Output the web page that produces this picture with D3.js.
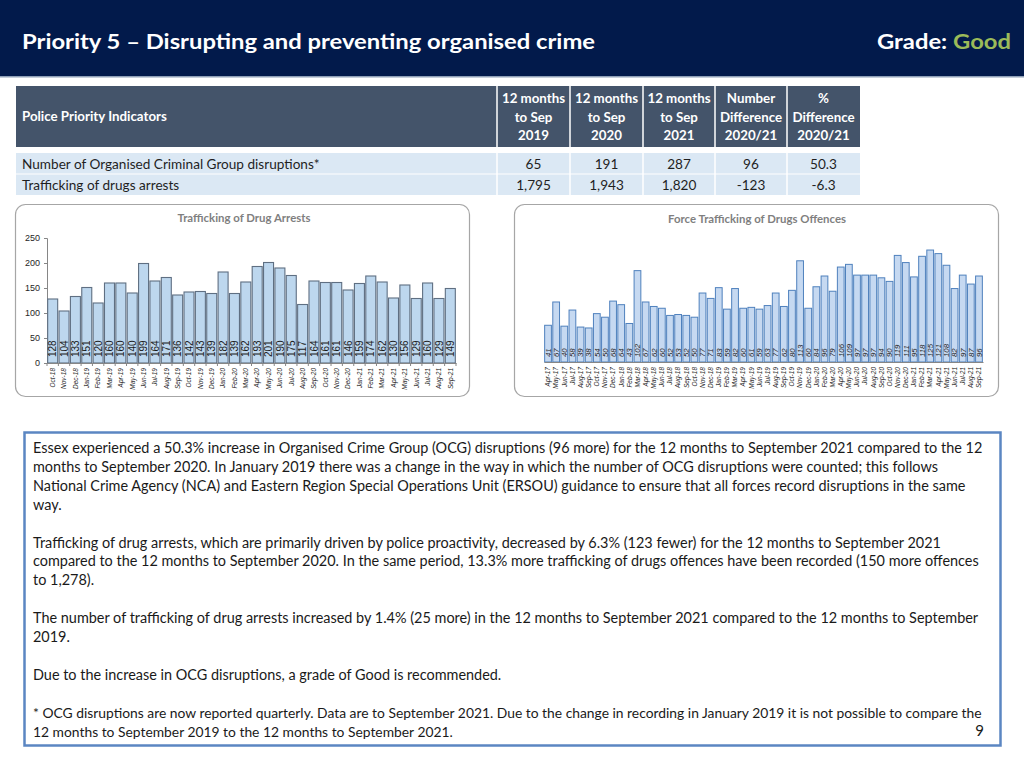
<!DOCTYPE html>
<html><head><meta charset="utf-8">
<script src="https://cdnjs.cloudflare.com/ajax/libs/d3/7.8.5/d3.min.js"></script>
<style>
html,body{margin:0;padding:0;background:#fff;}
svg{display:block;font-family:Lato,"Open Sans",sans-serif;}
</style></head>
<body><svg id="c" width="1024" height="768"></svg>
<script>
// ---------- DATA ----------
const titleText = "Priority 5 \u2013 Disrupting and preventing organised crime";
const gradeLabel = "Grade: ";
const gradeValue = "Good";

const tableHeaders = [["Police Priority Indicators"], ["12 months","to Sep","2019"], ["12 months","to Sep","2020"], ["12 months","to Sep","2021"], ["Number","Difference","2020/21"], ["%","Difference","2020/21"]];
const indicatorNames = ["Number of Organised Criminal Group disruptions*", "Trafficking of drugs arrests"];
const val2019 = ["65", "1,795"];
const val2020 = ["191", "1,943"];
const val2021 = ["287", "1,820"];
const numDiff = ["96", "-123"];
const pctDiff = ["50.3", "-6.3"];

const arrestMonths = ["Oct-18","Nov-18","Dec-18","Jan-19","Feb-19","Mar-19","Apr-19","May-19","Jun-19","Jul-19","Aug-19","Sep-19","Oct-19","Nov-19","Dec-19","Jan-20","Feb-20","Mar-20","Apr-20","May-20","Jun-20","Jul-20","Aug-20","Sep-20","Oct-20","Nov-20","Dec-20","Jan-21","Feb-21","Mar-21","Apr-21","May-21","Jun-21","Jul-21","Aug-21","Sep-21"];
const arrestValues = [128,104,133,151,120,160,160,140,199,164,171,136,142,143,139,182,139,162,193,201,190,175,117,164,161,161,146,159,174,162,130,156,129,160,129,149];
const arrestTicks = [0,50,100,150,200,250];
const arrestTitle = "Trafficking of Drug Arrests";

const offenceMonths = ["Apr-17","May-17","Jun-17","Jul-17","Aug-17","Sep-17","Oct-17","Nov-17","Dec-17","Jan-18","Feb-18","Mar-18","Apr-18","May-18","Jun-18","Jul-18","Aug-18","Sep-18","Oct-18","Nov-18","Dec-18","Jan-19","Feb-19","Mar-19","Apr-19","May-19","Jun-19","Jul-19","Aug-19","Sep-19","Oct-19","Nov-19","Dec-19","Jan-20","Feb-20","Mar-20","Apr-20","May-20","Jun-20","Jul-20","Aug-20","Sep-20","Oct-20","Nov-20","Dec-20","Jan-21","Feb-21","Mar-21","Apr-21","May-21","Jun-21","Jul-21","Aug-21","Sep-21"];
const offenceValues = [41,67,40,58,39,38,54,50,68,64,43,102,67,62,60,52,53,52,50,77,71,83,59,82,60,61,59,63,77,62,80,113,60,84,96,79,106,109,97,97,97,94,90,119,111,95,118,125,121,108,82,97,87,96];
const offenceTitle = "Force Trafficking of Drugs Offences";

const commentaryLines = [
 "Essex experienced a 50.3% increase in Organised Crime Group (OCG) disruptions (96 more) for the 12 months to September 2021 compared to the 12",
 "months to September 2020. In January 2019 there was a change in the way in which the number of OCG disruptions were counted; this follows",
 "National Crime Agency (NCA) and Eastern Region Special Operations Unit (ERSOU) guidance to ensure that all forces record disruptions in the same",
 "way.",
 "",
 "Trafficking of drug arrests, which are primarily driven by police proactivity, decreased by 6.3% (123 fewer) for the 12 months to September 2021",
 "compared to the 12 months to September 2020. In the same period, 13.3% more trafficking of drugs offences have been recorded (150 more offences",
 "to 1,278).",
 "",
 "The number of trafficking of drug arrests increased by 1.4% (25 more) in the 12 months to September 2021 compared to the 12 months to September",
 "2019.",
 "",
 "Due to the increase in OCG disruptions, a grade of Good is recommended.",
 "",
 "* OCG disruptions are now reported quarterly. Data are to September 2021. Due to the change in recording in January 2019 it is not possible to compare the",
 "12 months to September 2019 to the 12 months to September 2021."
];
const footnoteStart = 14;
const pageNumber = "9";

// ---------- LAYOUT ----------
const svg = d3.select("#c");

// Header band
svg.append("rect").attr("x",0).attr("y",0).attr("width",1024).attr("height",76).attr("fill","#021a4b");
svg.append("rect").attr("x",0).attr("y",76).attr("width",1024).attr("height",1.5).attr("fill","#8fa0b8");
svg.append("text").attr("x",22).attr("y",49).attr("fill","#fff").attr("font-weight","bold")
  .attr("font-size",21).attr("textLength",573).attr("lengthAdjust","spacingAndGlyphs").text(titleText);
const g = svg.append("text").attr("x",877).attr("y",49).attr("font-weight","bold").attr("font-size",21.5)
  .attr("textLength",134).attr("lengthAdjust","spacingAndGlyphs");
g.append("tspan").attr("fill","#fff").text(gradeLabel);
g.append("tspan").attr("fill","#9bbb59").text(gradeValue);

// Table
const colEdges = [16,497,570,643,715,787,860];
svg.append("rect").attr("x",16).attr("y",86).attr("width",844).attr("height",61).attr("fill","#44546a");
tableHeaders.forEach((lines,i)=>{
  const x0 = colEdges[i], x1 = colEdges[i+1];
  const t = svg.append("text").attr("fill","#fff").attr("font-weight","bold").attr("font-size",13.3);
  if(i===0){ t.attr("x",x0+6).attr("y",121).text(lines[0]); }
  else {
    lines.forEach((l,j)=>t.append("tspan").attr("x",(x0+x1)/2).attr("y",103+j*18.5).attr("text-anchor","middle").text(l));
  }
});
const rows = indicatorNames.map((n,i)=>[n,val2019[i],val2020[i],val2021[i],numDiff[i],pctDiff[i]]);
rows.forEach((r,i)=>{
  const y = 153 + i*21.5;
  svg.append("rect").attr("x",16).attr("y",y).attr("width",844).attr("height",20.5).attr("fill","#dbe8f4");
  r.forEach((v,j)=>{
    const x0 = colEdges[j], x1 = colEdges[j+1];
    svg.append("text").attr("x", j===0 ? x0+6 : (x0+x1)/2).attr("y",y+15.5)
      .attr("text-anchor", j===0?"start":"middle").attr("font-size",13.6).attr("fill","#1f1f1f").text(v);
  });
});
colEdges.slice(1,-1).forEach(x=>{
  svg.append("line").attr("x1",x).attr("x2",x).attr("y1",86).attr("y2",196).attr("stroke","#fff").attr("stroke-width",1.5);
});

// ---------- Left chart ----------
svg.append("rect").attr("x",15.5).attr("y",204.5).attr("width",454).attr("height",192).attr("rx",10)
  .attr("fill","#fff").attr("stroke","#a6a6a6").attr("stroke-width",1.2);
svg.append("text").attr("x",244).attr("y",222).attr("text-anchor","middle").attr("font-weight","bold")
  .attr("font-size",11.4).attr("fill","#7f7f7f").text(arrestTitle);

const xL = d3.scaleBand().domain(arrestMonths).range([47,456]).paddingInner(0.12).paddingOuter(0.06);
const yL = d3.scaleLinear().domain([0,250]).range([363,238]);

const yAxisL = svg.append("g").attr("transform","translate(47,0)")
  .call(d3.axisLeft(yL).tickValues(arrestTicks).tickSize(3).tickPadding(4));
yAxisL.select(".domain").attr("stroke","#868686");
yAxisL.selectAll(".tick line").attr("stroke","#868686");
yAxisL.selectAll("text").attr("font-family","Liberation Sans, Arial, sans-serif").attr("font-size",9).attr("fill","#262626");

svg.append("g").selectAll("rect").data(arrestValues).join("rect")
  .attr("x",(d,i)=>xL(arrestMonths[i])).attr("width",xL.bandwidth())
  .attr("y",d=>yL(d)).attr("height",d=>yL(0)-yL(d))
  .attr("fill","#bdd7ee").attr("stroke","#5f6f82").attr("stroke-width",1.1);

svg.append("g").selectAll("text").data(arrestValues).join("text")
  .attr("transform",(d,i)=>`translate(${xL(arrestMonths[i])+xL.bandwidth()/2+3.6},357) rotate(-90)`)
  .attr("font-family","Liberation Sans, Arial, sans-serif").attr("font-size",10).attr("fill","#1a1a1a").text(d=>d);

const xAxisL = svg.append("g").attr("transform","translate(0,363)")
  .call(d3.axisBottom(xL).tickSize(0).tickFormat(""));
xAxisL.select(".domain").attr("stroke","#868686");
svg.append("g").selectAll("line").data(arrestMonths.concat(["_end"])).join("line")
  .attr("x1",(d,i)=> i<arrestMonths.length ? xL(d)-xL.step()*xL.paddingInner()/2 : xL(arrestMonths[i-1])+xL.bandwidth()+xL.step()*xL.paddingInner()/2)
  .attr("x2",function(){return d3.select(this).attr("x1");})
  .attr("y1",363).attr("y2",366).attr("stroke","#868686");
svg.append("g").selectAll("text").data(arrestMonths).join("text")
  .attr("transform",d=>`translate(${xL(d)+xL.bandwidth()/2+2.3},368) rotate(-90)`)
  .attr("text-anchor","end").attr("font-family","Liberation Sans Narrow, Liberation Sans, Arial, sans-serif")
  .attr("font-style","italic").attr("font-size",6.5).attr("fill","#262626").text(d=>d);

// ---------- Right chart ----------
svg.append("rect").attr("x",514.5).attr("y",204.5).attr("width",484).attr("height",192).attr("rx",10)
  .attr("fill","#fff").attr("stroke","#a6a6a6").attr("stroke-width",1.2);
svg.append("text").attr("x",757).attr("y",223).attr("text-anchor","middle").attr("font-weight","bold")
  .attr("font-size",11.4).attr("fill","#7f7f7f").text(offenceTitle);

const xR = d3.scaleBand().domain(offenceMonths).range([544,983]).paddingInner(0.17).paddingOuter(0.08);
const yR = d3.scaleLinear().domain([0,140]).range([362,236.6]);

svg.append("g").selectAll("rect").data(offenceValues).join("rect")
  .attr("x",(d,i)=>xR(offenceMonths[i])).attr("width",xR.bandwidth())
  .attr("y",d=>yR(d)).attr("height",d=>yR(0)-yR(d))
  .attr("fill","#c6d9f1").attr("stroke","#4f81bd").attr("stroke-width",1);

svg.append("g").selectAll("text").data(offenceValues).join("text")
  .attr("transform",(d,i)=>`translate(${xR(offenceMonths[i])+xR.bandwidth()/2+2.8},357) rotate(-90)`)
  .attr("font-family","Liberation Sans, Arial, sans-serif").attr("font-style","italic")
  .attr("font-size",7.8).attr("fill","#262626").text(d=>d);

const xAxisR = svg.append("g").attr("transform","translate(0,362)")
  .call(d3.axisBottom(xR).tickSize(0).tickFormat(""));
xAxisR.select(".domain").attr("stroke","#868686");
svg.append("g").selectAll("text").data(offenceMonths).join("text")
  .attr("transform",d=>`translate(${xR(d)+xR.bandwidth()/2+2.3},367) rotate(-90)`)
  .attr("text-anchor","end").attr("font-family","Liberation Sans Narrow, Liberation Sans, Arial, sans-serif")
  .attr("font-style","italic").attr("font-size",6.5).attr("fill","#262626").text(d=>d);

// ---------- Commentary box ----------
svg.append("rect").attr("x",24.5).attr("y",432.5).attr("width",976).attr("height",313)
  .attr("fill","#fff").attr("stroke","#5b86c2").attr("stroke-width",2.5);
const lineH = 18.9;
commentaryLines.forEach((l,i)=>{
  if(!l) return;
  svg.append("text").attr("x",33).attr("y",453 + i*lineH)
    .attr("font-size", i>=footnoteStart ? 13.85 : 14.45).attr("fill","#1a1a1a").text(l);
});
svg.append("text").attr("x",984).attr("y",736).attr("text-anchor","end").attr("font-size",15).attr("fill","#1a1a1a").text(pageNumber);
</script></body></html>
